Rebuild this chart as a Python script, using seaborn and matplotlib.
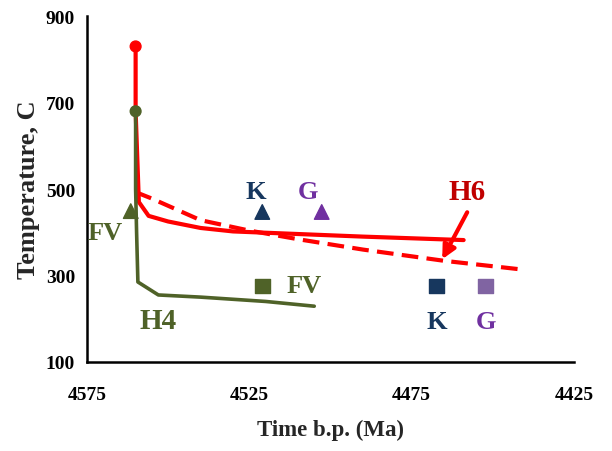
import pandas as pd
import matplotlib
matplotlib.use("Agg")
import matplotlib.pyplot as plt
import seaborn as sns

# H6 solid cooling path
h6_solid_t = [4560, 4560, 4559, 4556, 4550, 4540, 4530, 4510, 4490, 4459]
h6_solid_T = [830, 680, 470, 438, 425, 410, 402, 396, 390, 382]
# H6 dashed cooling path
h6_dash_t = [4560, 4555, 4540, 4525, 4510, 4490, 4465, 4440]
h6_dash_T = [493, 478, 428, 404, 384, 360, 334, 313]
# H4 cooling path
h4_t = [4560, 4560, 4559.7, 4559.3, 4553, 4540, 4520, 4505]
h4_T = [680, 500, 400, 285, 255, 250, 240, 229]

# closure markers
start_t = [4560, 4560]
start_T = [830, 680]
tri_t = [4561.5, 4521, 4502.7]
tri_T = [449, 447, 447]
sq_t = [4521, 4467.3, 4452.2]
sq_T = [276, 276, 276]

RED = "#FF0000"
OLIVE = "#4F6228"
NAVY = "#17375E"
PURPLE = "#7030A0"
LAVENDER = "#8064A2"

sns.set_style("white")
plt.rcParams["font.family"] = ["Liberation Serif", "DejaVu Serif"]
plt.rcParams["font.weight"] = "bold"

fig = plt.figure(figsize=(6.12, 4.52), dpi=100)
ax = fig.add_axes([0.142, 0.197, 0.796, 0.765])

sns.lineplot(x=h6_solid_t, y=h6_solid_T, sort=False, estimator=None,
             color=RED, lw=3, ax=ax)
sns.lineplot(x=h6_dash_t, y=h6_dash_T, sort=False, estimator=None,
             color=RED, lw=3, linestyle=(0, (4, 2)), ax=ax)
sns.lineplot(x=h4_t, y=h4_T, sort=False, estimator=None,
             color=OLIVE, lw=2.6, zorder=4, ax=ax)

ax.scatter(start_t, start_T, c=[RED, OLIVE], s=60, zorder=5)
ax.scatter(tri_t, tri_T, c=[OLIVE, NAVY, PURPLE], marker="^", s=110, zorder=5)
ax.scatter(sq_t, sq_T, c=[OLIVE, NAVY, LAVENDER], marker="s", s=110, zorder=5)

lab = dict(fontsize=19, fontweight="bold", ha="center", va="center")
ax.text(4569.5, 400, "FV", color=OLIVE, **lab)
ax.text(4523, 495, "K", color=NAVY, **lab)
ax.text(4507, 495, "G", color=PURPLE, **lab)
ax.text(4508, 276, "FV", color=OLIVE, **lab)
ax.text(4467.3, 194, "K", color=NAVY, **lab)
ax.text(4452.2, 194, "G", color=PURPLE, **lab)
ax.text(4553, 195, "H4", color=OLIVE, fontsize=21, fontweight="bold", ha="center", va="center")
ax.text(4458, 495, "H6", color="#C00000", fontsize=21, fontweight="bold", ha="center", va="center")
ax.annotate("", xy=(4466, 332), xytext=(4457.5, 452),
            arrowprops=dict(arrowstyle="-|>", color=RED, lw=3, mutation_scale=20))

ax.set_xlim(4575, 4425)
ax.set_ylim(100, 900)
ax.set_xticks([4575, 4525, 4475, 4425])
ax.set_yticks([100, 300, 500, 700, 900])
ax.tick_params(direction="out", length=5, width=1.5, labelsize=14, colors="black")
for lbl in ax.get_xticklabels() + ax.get_yticklabels():
    lbl.set_fontweight("bold")
ax.tick_params(axis="x", pad=12)
ax.set_xlabel("Time b.p. (Ma)", fontsize=16.5, fontweight="bold", labelpad=12)
ax.set_ylabel("Temperature, C", fontsize=19, fontweight="bold", labelpad=4)
sns.despine(ax=ax)
for s in ["left", "bottom"]:
    ax.spines[s].set_linewidth(1.8)
    ax.spines[s].set_color("black")

fig.savefig("out.png", dpi=100)
